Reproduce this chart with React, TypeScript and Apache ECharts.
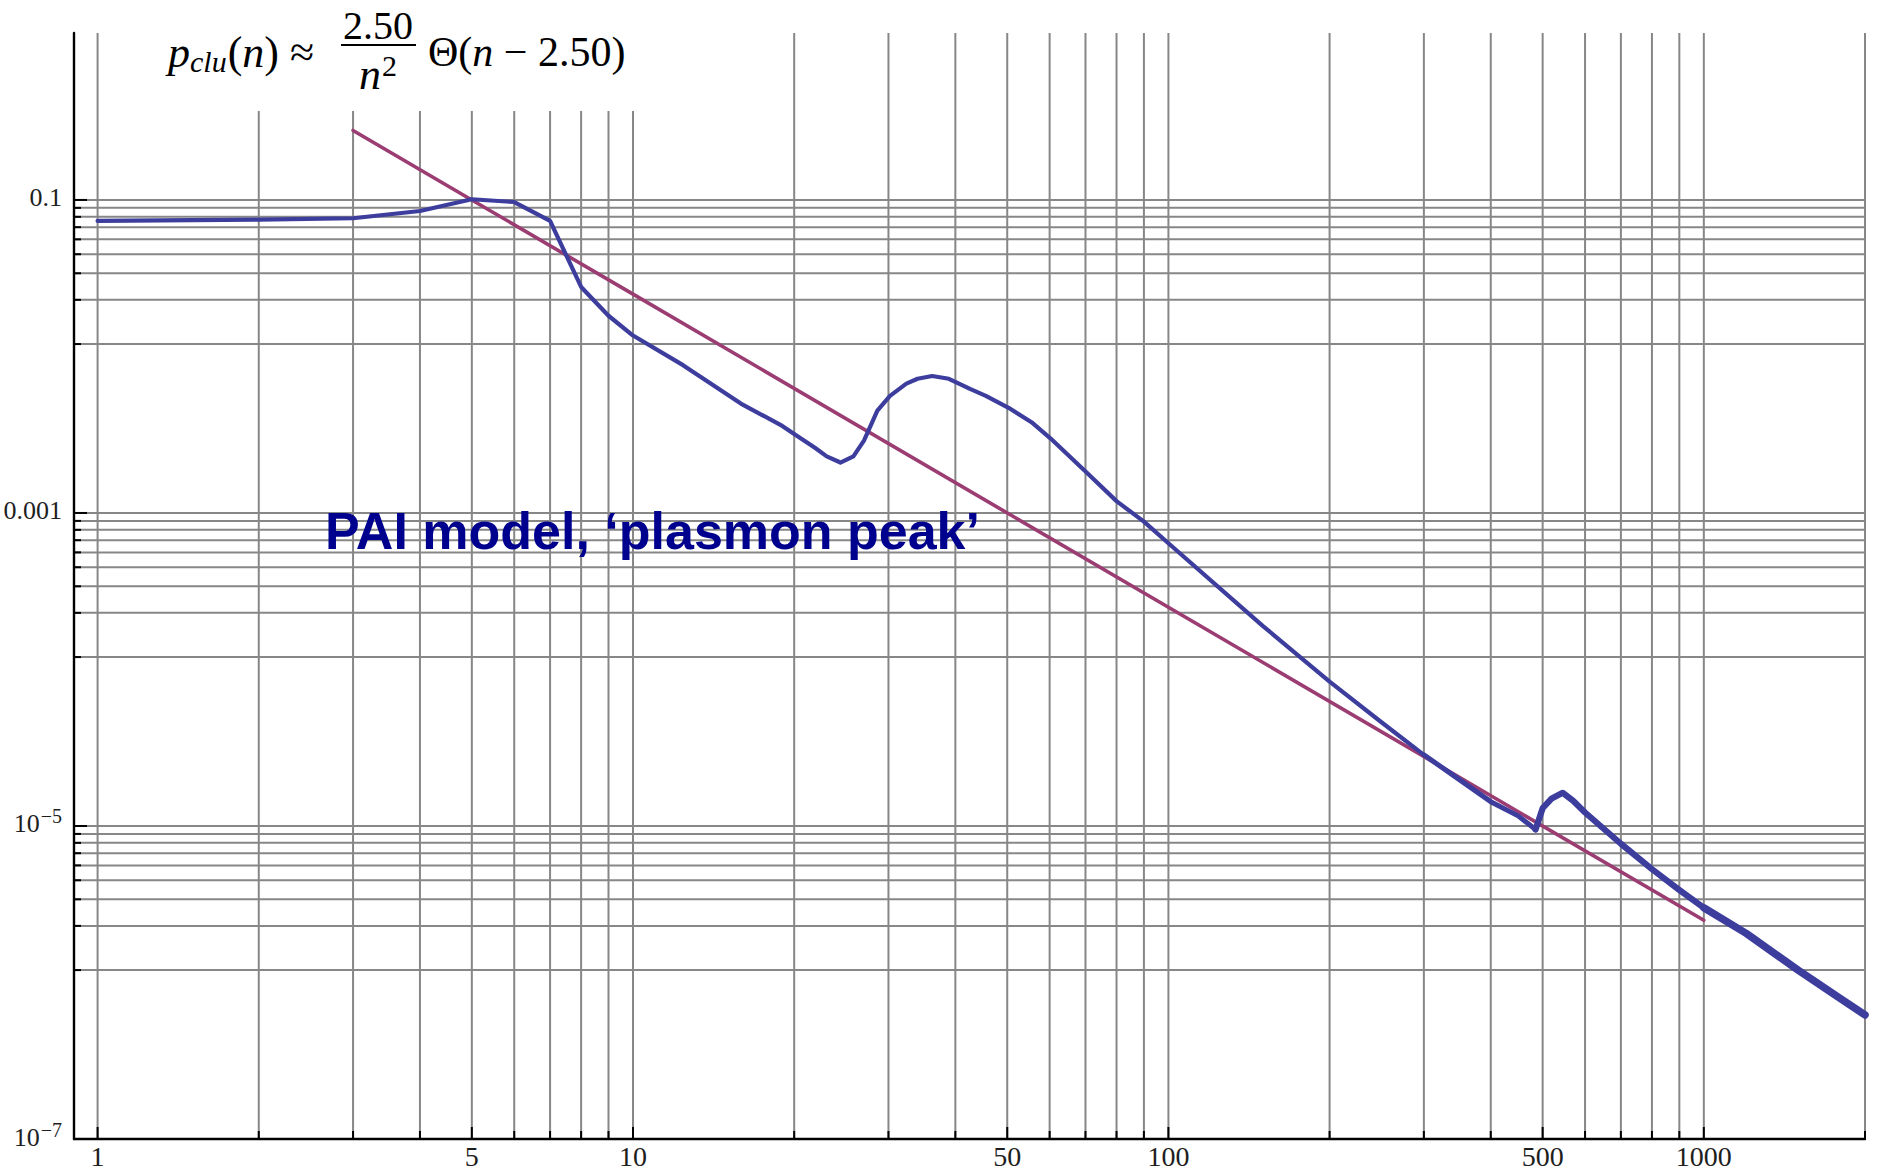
import React, { useEffect, useRef } from 'react';
import * as echarts from 'echarts';

// ---- axis ranges ----
const X_MIN = 0.9035;
const X_MAX = 2000;
const Y_MIN = 1e-7;
const Y_MAX = 1.166;

// ---- grid / ticks ----
const xGridValues = [1, 2, 3, 4, 5, 6, 7, 8, 9, 10, 20, 30, 40, 50, 60, 70, 80, 90, 100, 200, 300, 400, 500, 600, 700, 800, 900, 1000, 2000];
const xMajorValues = [1, 5, 10, 50, 100, 500, 1000];
const xLabelValues = [1, 5, 10, 50, 100, 500, 1000];
const xLabelTexts = ['1', '5', '10', '50', '100', '500', '1000'];

const yGridValues = [
  0.1, 0.089, 0.078, 0.067, 0.056, 0.045, 0.034, 0.023, 0.012,
  0.001, 0.00089, 0.00078, 0.00067, 0.00056, 0.00045, 0.00034, 0.00023, 0.00012,
  1e-5, 8.9e-6, 7.8e-6, 6.7e-6, 5.6e-6, 4.5e-6, 3.4e-6, 2.3e-6, 1.2e-6,
];
const yMajorValues = [0.1, 0.001, 1e-5, 1e-7];
const yLabelValues = [0.1, 0.001, 1e-5, 1e-7];
const yLabelTexts = ['{n|0.1}', '{n|0.001}', '{n|10}{s|−5}', '{n|10}{s|−7}'];

// ---- simulated cluster distribution (blue) ----
const blueN = [1, 2, 3, 4, 5, 6, 7, 8, 9, 10, 12.4, 15.9, 19, 20, 21.9, 23, 24.4, 25.8, 27, 28.6, 30.2, 32.4, 34, 36.2, 38.9, 42.6, 45.6, 50.3, 55.5, 60.2, 70.5, 80, 90, 100, 150, 200, 250, 300];
const blueP = [0.0734, 0.0748, 0.0764, 0.085, 0.101, 0.097, 0.0735, 0.0278, 0.0182, 0.0136, 0.0088, 0.005, 0.0036, 0.0032, 0.0026, 0.0023, 0.0021, 0.0023, 0.0029, 0.0045, 0.0056, 0.0067, 0.0072, 0.0075, 0.0072, 0.0062, 0.0056, 0.0047, 0.0038, 0.003, 0.0018, 0.00119, 0.00088, 0.00064, 0.00019, 0.0000836, 0.000046, 0.0000285];

const blueTailAN = [300, 350, 400, 450, 485];
const blueTailAP = [2.85e-5, 1.97e-5, 1.43e-5, 1.16e-5, 9.5e-6];
const blueTailBN = [485, 500, 520, 545, 570, 600, 700, 800, 900, 1000];
const blueTailBP = [9.5e-6, 1.3e-5, 1.5e-5, 1.63e-5, 1.45e-5, 1.22e-5, 7.7e-6, 5.3e-6, 3.9e-6, 3.0e-6];
const blueTailCN = [1000, 1200, 1500, 1800, 2000];
const blueTailCP = [3.0e-6, 2.06e-6, 1.2e-6, 7.9e-7, 6.2e-7];

// ---- fit 2.50/n^2 (purple) ----
const fitN = [3, 5, 10, 100, 1000];
const fitP = [0.278, 0.1, 0.025, 0.00025, 0.0000025];

const BLUE = '#3d3d9e';
const PURPLE = '#9b3d72';
const GRID = '#878787';
const SERIF = '"Liberation Serif", "Times New Roman", serif';

const pairs = (a: number[], b: number[]) => a.map((v, i) => [v, b[i]]);

export default function App() {
  const ref = useRef<HTMLDivElement>(null);
  useEffect(() => {
    if (!ref.current) return;
    const chart = echarts.init(ref.current, undefined, { renderer: 'svg' });

    const gridData = [
      ...xGridValues.map((v) => [v, Y_MIN, xMajorValues.includes(v) ? 1 : 0]),
      ...yGridValues.map((v) => [X_MIN, v, yMajorValues.includes(v) ? 3 : 2]),
    ];
    const labelData = [
      ...xLabelValues.map((v, i) => [v, Y_MIN, 0, i]),
      ...yLabelValues.map((v, i) => [X_MIN, v, 1, i]),
    ];

    const lineSeries = (data: number[][], color: string, width: number, z = 3) => ({
      type: 'line',
      data,
      symbol: 'none',
      showSymbol: false,
      lineStyle: { color, width, cap: 'round', join: 'round' },
      z,
      silent: true,
    });

    const option: any = {
      animation: false,
      backgroundColor: '#ffffff',
      grid: { left: 74, top: 33, right: 13, bottom: 33, containLabel: false },
      xAxis: {
        type: 'log', logBase: 10, min: X_MIN, max: X_MAX, z: 10,
        axisLine: { show: true, onZero: false, lineStyle: { color: '#000', width: 2.4 } },
        axisTick: { show: false }, axisLabel: { show: false }, splitLine: { show: false },
      },
      yAxis: {
        type: 'log', logBase: 10, min: Y_MIN, max: Y_MAX, z: 10,
        axisLine: { show: true, onZero: false, lineStyle: { color: '#000', width: 2.4 } },
        axisTick: { show: false }, axisLabel: { show: false }, splitLine: { show: false },
      },
      series: [
        {
          type: 'custom',
          silent: true,
          clip: false,
          z: 1,
          encode: { x: 0, y: 1 },
          data: gridData,
          renderItem: (params: any, api: any) => {
            const kind = api.value(2);
            const p = api.coord([api.value(0), api.value(1)]);
            const cs = params.coordSys;
            if (kind < 2) {
              const x = p[0];
              const bottom = cs.y + cs.height;
              return {
                type: 'group',
                children: [
                  { type: 'line', shape: { x1: x, y1: cs.y, x2: x, y2: bottom }, style: { stroke: GRID, lineWidth: 2 } },
                  { type: 'line', shape: { x1: x, y1: bottom, x2: x, y2: bottom - (kind === 1 ? 12 : 8) }, style: { stroke: '#000', lineWidth: 2 } },
                ],
              };
            }
            const y = p[1];
            const left = cs.x;
            return {
              type: 'group',
              children: [
                { type: 'line', shape: { x1: left, y1: y, x2: cs.x + cs.width, y2: y }, style: { stroke: GRID, lineWidth: 2 } },
                { type: 'line', shape: { x1: left, y1: y, x2: left + (kind === 3 ? 13 : 7), y2: y }, style: { stroke: '#000', lineWidth: 2 } },
              ],
            };
          },
        },
        {
          type: 'custom',
          silent: true,
          clip: false,
          z: 5,
          encode: { x: 0, y: 1 },
          data: labelData,
          renderItem: (params: any, api: any) => {
            const isY = api.value(2) === 1;
            const idx = api.value(3);
            const p = api.coord([api.value(0), api.value(1)]);
            if (!isY) {
              return {
                type: 'text',
                x: p[0],
                y: p[1] + 3,
                style: {
                  text: xLabelTexts[idx],
                  fill: '#1e1e1e',
                  fontSize: 28,
                  fontFamily: SERIF,
                  align: 'center',
                  verticalAlign: 'top',
                },
              };
            }
            return {
              type: 'text',
              x: p[0] - 12,
              y: p[1] - 2,
              style: {
                text: yLabelTexts[idx],
                fill: '#1e1e1e',
                align: 'right',
                verticalAlign: 'middle',
                rich: {
                  n: { fontSize: 26, fontFamily: SERIF, fill: '#1e1e1e' },
                  s: { fontSize: 20, fontFamily: SERIF, fill: '#1e1e1e', padding: [0, 0, 15, 1] },
                },
              },
            };
          },
        },
        lineSeries(pairs(fitN, fitP), PURPLE, 3.6, 3),
        lineSeries(pairs(blueN, blueP), BLUE, 4.2, 4),
        lineSeries(pairs(blueTailAN, blueTailAP), BLUE, 5, 4),
        lineSeries(pairs(blueTailBN, blueTailBP), BLUE, 6.2, 4),
        lineSeries(pairs(blueTailCN, blueTailCP), BLUE, 7.5, 4),
      ],
      graphic: [
        { type: 'rect', z: 100, shape: { x: 160, y: 0, width: 480, height: 111 }, style: { fill: '#ffffff' } },
        {
          type: 'text', z: 101, x: 168, y: 52,
          style: {
            text: '{i|p}{sub|clu}{r|(}{i|n}{r|) ≈}',
            verticalAlign: 'middle',
            rich: {
              i: { fontSize: 44, fontFamily: SERIF, fontStyle: 'italic', fill: '#000' },
              r: { fontSize: 44, fontFamily: SERIF, fill: '#000' },
              sub: { fontSize: 30, fontFamily: SERIF, fontStyle: 'italic', fill: '#000', padding: [18, 1, 0, 0] },
            },
          },
        },
        {
          type: 'text', z: 101, x: 378, y: 25,
          style: { text: '2.50', fontSize: 40, fontFamily: SERIF, fill: '#000', align: 'center', verticalAlign: 'middle' },
        },
        { type: 'line', z: 101, shape: { x1: 341, y1: 45, x2: 416, y2: 45 }, style: { stroke: '#000', lineWidth: 2 } },
        {
          type: 'text', z: 101, x: 378, y: 74,
          style: {
            text: '{i|n}{sup|2}',
            align: 'center',
            verticalAlign: 'middle',
            rich: {
              i: { fontSize: 44, fontFamily: SERIF, fontStyle: 'italic', fill: '#000' },
              sup: { fontSize: 30, fontFamily: SERIF, fill: '#000', padding: [0, 0, 18, 1] },
            },
          },
        },
        {
          type: 'text', z: 101, x: 428, y: 52,
          style: {
            text: '{r|Θ(}{i|n}{r| − 2.50)}',
            verticalAlign: 'middle',
            rich: {
              i: { fontSize: 42, fontFamily: SERIF, fontStyle: 'italic', fill: '#000' },
              r: { fontSize: 42, fontFamily: SERIF, fill: '#000' },
            },
          },
        },
        {
          type: 'text', z: 101, x: 325, y: 531,
          style: {
            text: 'PAI model, ‘plasmon peak’',
            fontSize: 52,
            fontWeight: 'bold',
            fontFamily: '"Liberation Sans", Arial, sans-serif',
            fill: '#00008e',
            verticalAlign: 'middle',
          },
        },
      ],
    };

    chart.setOption(option);
    return () => chart.dispose();
  }, []);

  return (
    <div
      ref={ref}
      style={{ position: 'fixed', left: 0, top: 0, width: 1878, height: 1172, background: '#ffffff' }}
    />
  );
}
